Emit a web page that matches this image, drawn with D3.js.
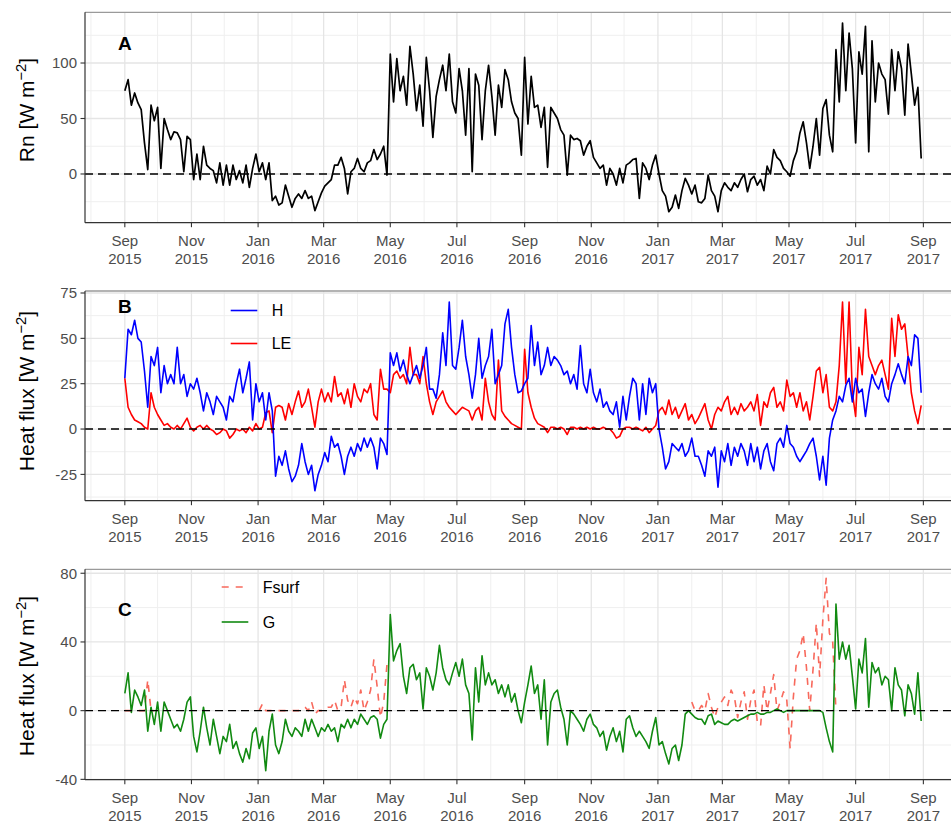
<!DOCTYPE html>
<html>
<head>
<meta charset="utf-8">
<title>Surface energy fluxes 2015-2017</title>
<script src="https://cdn.jsdelivr.net/npm/d3@7/dist/d3.min.js"></script>
<style>
  html, body { margin: 0; padding: 0; background: #fff; }
  svg { display: block; }
  text { font-family: "Liberation Sans", Arial, Helvetica, sans-serif; }
</style>
</head>
<body>
<svg id="chart" width="951" height="823"></svg>
<script>
// ---- data: one value every 3 days starting 1 Sep 2015 (W m-2) ----
const _ = null; // missing value
const startDate = "2015-09-01";
const stepDays = 3;

// Net radiation
const rn = [
  75, 85, 62, 73, 64, 58, 28, 4, 62, 48,              // 2015 Sep
  60, 5, 50, 40, 31, 38, 37, 31, 2, 34, 31,           // Oct
  -5, 18, -5, 25, 8, 5, 3, -8, 10, -10,               // Nov
  8, -10, 8, -5, 3, -8, 8, -12, 5, 18,                // Dec
  2, 10, -5, 10, -24, -20, -28, -26, -10, -20,        // 2016 Jan
  -30, -22, -18, -22, -15, -22, -20, -33, -25, -17,   // Feb
  -11, -8, -5, 8, 8, 15, 5, -18, 2, 5,                // Mar
  14, 5, 2, 10, 12, 22, 13, 18, 25, -1,               // Apr
  108, 65, 104, 75, 88, 62, 115, 90, 57, 80, 43,      // May
  105, 75, 33, 70, 85, 98, 75, 108, 65, 55,           // Jun
  95, 75, 35, 95, 2, 90, 80, 31, 75, 98,              // Jul
  70, 35, 80, 60, 94, 85, 65, 55, 50, 17,             // Aug
  105, 45, 88, 60, 62, 42, 60, 6, 60, 55,             // Sep
  50, 40, 35, -1, 35, 31, 32, 30, 17, 25, 30,         // Oct
  15, 10, 5, 8, -10, 5, 0, -10, 5, -8,                // Nov
  8, 10, 13, 14, -22, 10, 5, -5, 8, 17,               // Dec
  0, -15, -20, -34, -30, -19, -31, -15, -4, -10,      // 2017 Jan
  -18, -10, -25, -26, -22, -1, -15, -20, -34, -15,    // Feb
  -8, -12, -15, -8, -12, -5, 0, -16, -5, -2,          // Mar
  -10, -5, -15, 7, 0, 22, 15, 12, 5, 2,               // Apr
  -2, 12, 20, 37, 47, 28, 5, 25, 50, 17,              // May
  59, 67, 35, 20, 112, 65, 136, 75, 127, 95,          // Jun
  28, 110, 90, 133, 20, 120, 65, 100, 90, 85, 54,     // Jul
  112, 75, 110, 95, 53, 117, 90, 62, 78, 14           // Aug
];

// Sensible heat flux
const sensibleH = [
  28, 55, 52, 60, 50, 48, 32, 12, 40, 35,
  45, 20, 35, 25, 30, 25, 45, 25, 30, 18, 25,
  22, 28, 20, 10, 20, 15, 8, 18, 15, 12,
  5, 18, 15, 25, 33, 20, 28, 37, 5, 25,
  15, 20, 5, 20, 10, -26, -15, -20, -12, -22,
  -29, -26, -20, -8, -18, -25, -20, -34, -25, -20,
  -13, -18, -4, -10, -8, -15, -25, -15, -10, -15,
  -8, -12, -5, -10, -5, -10, -22, -5, -8, -14,
  42, 35, 42, 32, 38, 30, 25, 30, 35, 28, 35,
  45, 22, 22, 17, 30, 53, 35, 70, 35, 33,
  45, 60, 40, 30, 17, 30, 50, 28, 35, 40,
  55, 25, 30, 35, 58, 66, 45, 30, 20, 21,
  25, 28, 57, 35, 48, 30, 35, 45, 35, 40,
  38, 35, 30, 32, 25, 30, 22, 46, 25, 20, 33,
  20, 15, 22, 12, 15, 10, 8, 15, 1, 18,
  5, 18, 28, 25, 5, 25, 8, 28, 20, 25,
  0, -10, -22, -18, -8, -10, -12, -8, -15, -12,
  -5, -15, -15, -20, -26, -12, -15, -10, -32, -12,
  -18, -8, -20, -10, -15, -8, -12, -20, -8, -18,
  -10, -22, -12, -8, -18, -23, -8, -5, -10, 2,
  -8, -10, -15, -18, -15, -12, -8, -5, -15, -28,
  -15, -31, -5, 5, 10, 18, 15, 24, 28, 15,
  28, 20, 22, 7, 20, 30, 25, 22, 28, 18, 15,
  25, 30, 36, 30, 25, 40, 35, 52, 50, 20
];

// Latent heat flux
const latentLE = [
  28, 12, 8, 5, 4, 3, 1, 0, 20, 12,
  8, 5, 2, 3, 1, 0, 2, 0, 3, 6, 1,
  -1, 1, 2, 0, 2, 0, -1, -3, -2, 0,
  -1, -5, -3, 0, -1, 0, -2, 1, -1, 3,
  0, 1, 9, 10, -2, 12, 13, 12, 5, 14,
  8, 15, 21, 12, 15, 22, 12, 1, 15, 22,
  15, 20, 15, 29, 18, 20, 14, 22, 12, 25,
  18, 15, 22, 20, 25, 8, 5, 33, 22, 22,
  20, 30, 32, 28, 30, 25, 45, 30, 30, 25, 40,
  25, 15, 8, 15, 18, 21, 15, 12, 10, 8,
  10, 12, 11, 10, 5, 10, 12, 5, 28, 15,
  8, 5, 38, 10, 7, 5, 3, 2, 1, 0,
  44, 20, 12, 6, 3, 2, 1, -2, 1, 1,
  0, 1, 0, -3, 1, 1, 0, 1, 0, 1, 0,
  1, 0, 0, 1, 0, 0, -2, -5, -4, 0,
  1, 1, 0, 1, 0, -1, 1, -2, 0, 2,
  10, 12, 8, 16, 8, 12, 6, 10, 14, 5,
  8, 3, 6, 10, 14, 5, 0, 8, 12, 10,
  15, 18, 8, 12, 8, 14, 10, 12, 15, 10,
  19, 2, 15, 12, 20, 23, 12, 15, 10, 27,
  18, 20, 12, 20, 10, 15, 5, 18, 32, 34,
  20, 30, 12, 10, 15, 35, 70, 25, 70, 20,
  7, 45, 30, 66, 40, 35, 30, 35, 38, 30, 22,
  61, 40, 63, 55, 58, 40, 20, 10, 3, 13
];

// Surface flux (only where available)
const fsurf = [
  0, 0, 0, 0, 0, 0, 0, 18, 0, 0,
  _, _, _, _, _, _, _, _, _, _, _,
  _, _, _, _, _, _, _, _, _, _,
  _, _, _, _, _, _, _, _, _, _,
  0, 4, 0, 0, 0, 0, 0, 0, 0, 0,
  0, 0, 0, 2, 2, 0, 5, -2, 0, 0,
  0, 2, 2, 6, 0, 2, 18, 6, 2, 8,
  4, 12, 0, 5, 12, 30, 14, -4, 5, 27,
  _, _, _, _, _, _, _, _, _, _, _,
  _, _, _, _, _, _, _, _, _, _,
  _, _, _, _, _, _, _, _, _, _,
  _, _, _, _, _, _, _, _, _, _,
  _, _, _, _, _, _, _, _, _, _,
  _, _, _, _, _, _, _, _, _, _, _,
  _, _, _, _, _, _, _, _, _, _,
  _, _, _, _, _, _, _, _, _, _,
  _, _, _, _, _, _, _, _, _, _,
  5, 0, 0, 3, 0, 10, 2, -4, 2, 5,
  8, 3, 12, 8, -4, 5, 11, -5, 6, 12,
  -7, -9, 15, 0, 10, 21, 0, 5, 11, 6,
  -22, 8, 30, 35, 45, 25, 0, 24, 51, 20,
  53, 77, 45, 40, 0, _, _, _, _, _,
  _, _, _, _, _, _, _, _, _, _, _,
  _, _, _, _, _, _, _, _, _, _
];

// Ground heat flux
const soilG = [
  10, 22, -1, 12, 8, 3, 12, -12, 2, -8,
  5, -12, 5, 0, -5, -10, -8, -12, -5, 5, 8,
  -15, -24, -12, 2, -10, -20, -5, -15, -25, -15,
  -18, -8, -22, -18, -25, -30, -22, -28, -13, -10,
  -22, -15, -35, -12, -2, -20, -25, -18, -5, -12,
  -15, -10, -12, -15, -5, -12, -5, -10, -15, -10,
  -12, -8, -12, -10, -18, -8, -10, -5, -10, -5,
  -8, -2, -5, -8, -4, -3, -5, -16, -8, -5,
  56, 29, 35, 39, 20, 10, 25, 27, 18, 22, 1,
  25, 20, 12, 22, 38, 25, 18, 15, 22, 28,
  20, 30, 15, 10, -17, 25, 5, 32, 15, 22,
  15, 18, 10, 15, 8, 15, 5, 10, 0, -7,
  5, 15, 26, 10, 15, -5, 18, -20, 5, 10,
  12, 2, -5, -20, 0, -2, -5, -8, -12, -5, -2,
  -8, -10, -15, -12, -23, -15, -10, -18, -12, -24,
  -5, -3, -10, -15, -12, -15, -18, -22, -12, -4,
  -20, -18, -25, -31, -22, -20, -29, -20, -2, 0,
  -2, -4, -5, -5, -8, -3, -2, -8, -6, -7,
  -8, -8, -6, -5, -6, -5, -4, -3, -2, -2,
  -1, -2, -2, -1, -1, 0, 1, 0, -1, 0,
  0, 0, 0, 0, 0, 0, 0, 0, 0, 0,
  -1, -10, -18, -24, 62, 30, 40, 30, 38, 20,
  1, 30, 22, 42, 2, 28, 22, 25, 15, 20, 18,
  0, 25, 15, 12, -3, 15, 10, -2, 22, -6
];

const panelLabels = ["A", "B", "C"];
const yTicksA = [0, 50, 100];
const yTicksB = [-25, 0, 25, 50, 75];
const yTicksC = [-40, 0, 40, 80];
const legendNamesB = ["H", "LE"];
const legendNamesC = ["Fsurf", "G"];

// ---- layout ----
const svg = d3.select("#chart");
const defs = svg.append("defs");
const plotLeft = 85, plotRight = 961;
const tickFont = 15, titleFont = 21;
const axisGrey = "#4D4D4D";

const t0 = d3.utcParse("%Y-%m-%d")(startDate);
const dates = rn.map((v, i) => d3.utcDay.offset(t0, i * stepDays));
const [dMin, dMax] = d3.extent(dates);
const pad = (dMax - dMin) * 0.05;
const x = d3.scaleUtc()
  .domain([new Date(+dMin - pad), new Date(+dMax + pad)])
  .range([plotLeft, plotRight]);

const majorMonths = d3.utcMonth.every(2).range(x.domain()[0], x.domain()[1]);
const minorMonths = d3.utcMonth.range(x.domain()[0], x.domain()[1])
  .filter(m => m.getUTCMonth() % 2 === 1);
const fmtMonth = d3.utcFormat("%b"), fmtYear = d3.utcFormat("%Y");

function minorBreaks(ticks, domain) {
  const step = ticks[1] - ticks[0];
  const out = [];
  for (let v = ticks[0] - step / 2; v <= ticks[ticks.length - 1] + step; v += step) {
    if (v > domain[0] && v < domain[1]) out.push(v);
  }
  return out;
}

function drawPanel(cfg) {
  const y = d3.scaleLinear().domain(cfg.yDomain).range([cfg.bottom, cfg.top]);
  const g = svg.append("g");
  const clipId = "clip" + cfg.label;
  defs.append("clipPath").attr("id", clipId)
    .append("rect")
    .attr("x", plotLeft).attr("y", cfg.top)
    .attr("width", plotRight - plotLeft).attr("height", cfg.bottom - cfg.top);
  const body = g.append("g").attr("clip-path", `url(#${clipId})`);

  // grid
  body.selectAll(".hminor").data(minorBreaks(cfg.yTicks, cfg.yDomain)).join("line")
    .attr("x1", plotLeft).attr("x2", plotRight)
    .attr("y1", d => y(d)).attr("y2", d => y(d))
    .attr("stroke", "#EFEFEF").attr("stroke-width", 1);
  body.selectAll(".vminor").data(minorMonths).join("line")
    .attr("x1", d => x(d)).attr("x2", d => x(d))
    .attr("y1", cfg.top).attr("y2", cfg.bottom)
    .attr("stroke", "#EFEFEF").attr("stroke-width", 1);
  body.selectAll(".hmajor").data(cfg.yTicks).join("line")
    .attr("x1", plotLeft).attr("x2", plotRight)
    .attr("y1", d => y(d)).attr("y2", d => y(d))
    .attr("stroke", "#E5E5E5").attr("stroke-width", 1.3);
  body.selectAll(".vmajor").data(majorMonths).join("line")
    .attr("x1", d => x(d)).attr("x2", d => x(d))
    .attr("y1", cfg.top).attr("y2", cfg.bottom)
    .attr("stroke", "#E5E5E5").attr("stroke-width", 1.3);

  // series
  cfg.series.forEach(s => {
    const pts = s.values.map((v, i) => ({ date: dates[i], v }));
    const line = d3.line()
      .defined(d => d.v !== null && d.v !== undefined)
      .x(d => x(d.date)).y(d => y(d.v));
    body.append("path")
      .attr("d", line(pts))
      .attr("fill", "none")
      .attr("stroke", s.color)
      .attr("stroke-width", s.width)
      .attr("stroke-linejoin", "round")
      .attr("stroke-dasharray", s.dash || null);
  });

  // zero reference line
  body.append("line")
    .attr("x1", plotLeft).attr("x2", plotRight)
    .attr("y1", y(0)).attr("y2", y(0))
    .attr("stroke", "#000").attr("stroke-width", 1.4)
    .attr("stroke-dasharray", "8,5");

  // frame: light top border, dark axis lines
  g.append("line").attr("x1", plotLeft).attr("x2", plotRight)
    .attr("y1", cfg.top).attr("y2", cfg.top)
    .attr("stroke", "#9A9A9A").attr("stroke-width", 1.3);
  g.append("line").attr("x1", plotLeft).attr("x2", plotLeft)
    .attr("y1", cfg.top).attr("y2", cfg.bottom)
    .attr("stroke", "#333").attr("stroke-width", 1.2);
  g.append("line").attr("x1", plotLeft).attr("x2", plotRight)
    .attr("y1", cfg.bottom).attr("y2", cfg.bottom)
    .attr("stroke", "#333").attr("stroke-width", 1.2);

  // y axis
  const yAxis = g.append("g");
  yAxis.selectAll("line").data(cfg.yTicks).join("line")
    .attr("x1", plotLeft - 4.5).attr("x2", plotLeft)
    .attr("y1", d => y(d)).attr("y2", d => y(d))
    .attr("stroke", "#333").attr("stroke-width", 1.1);
  yAxis.selectAll("text").data(cfg.yTicks).join("text")
    .attr("x", plotLeft - 8).attr("y", d => y(d) + 5.4)
    .attr("text-anchor", "end")
    .attr("font-size", tickFont).attr("fill", axisGrey)
    .text(d => d);

  // x axis
  const xAxis = g.append("g");
  xAxis.selectAll("line").data(majorMonths).join("line")
    .attr("x1", d => x(d)).attr("x2", d => x(d))
    .attr("y1", cfg.bottom).attr("y2", cfg.bottom + 4.5)
    .attr("stroke", "#333").attr("stroke-width", 1.1);
  const lab = xAxis.selectAll("text").data(majorMonths).join("text")
    .attr("text-anchor", "middle")
    .attr("font-size", tickFont).attr("fill", axisGrey);
  lab.append("tspan").attr("x", d => x(d)).attr("y", cfg.bottom + 23).text(d => fmtMonth(d));
  lab.append("tspan").attr("x", d => x(d)).attr("y", cfg.bottom + 41.5).text(d => fmtYear(d));

  // y title with superscript
  const yt = g.append("text")
    .attr("transform", `translate(34,${cfg.titleY}) rotate(-90)`)
    .attr("text-anchor", "middle")
    .attr("font-size", titleFont).attr("fill", "#000");
  yt.append("tspan").text(cfg.title + " [W m");
  yt.append("tspan").attr("dy", -8).attr("font-size", titleFont * 0.7).text("\u22122");
  yt.append("tspan").attr("dy", 8).text("]");

  // panel letter
  g.append("text")
    .attr("x", x(t0)).attr("y", y(cfg.labelValue))
    .attr("dy", "0.36em")
    .attr("text-anchor", "middle")
    .attr("font-size", 19).attr("font-weight", "bold")
    .text(cfg.label);

  // legend
  if (cfg.legend) {
    cfg.legend.forEach((item, i) => {
      const ly = cfg.legendY[i];
      g.append("line")
        .attr("x1", cfg.legendX).attr("x2", cfg.legendX + 26.6)
        .attr("y1", ly).attr("y2", ly)
        .attr("stroke", item.color).attr("stroke-width", item.width)
        .attr("stroke-dasharray", item.dash || null);
      g.append("text")
        .attr("x", cfg.legendX + 41).attr("y", ly + 5.7)
        .attr("font-size", 16).attr("fill", "#000")
        .text(item.name);
    });
  }
}

const colH = "#0000FF", colLE = "#FF0000", colF = "#F8695C", colG = "#118A11";

drawPanel({
  label: panelLabels[0], top: 12.3, bottom: 222.7, yDomain: [-43.9, 145.7],
  yTicks: yTicksA, title: "Rn", titleY: 110, labelValue: 118,
  series: [{ values: rn, color: "#000", width: 1.7 }]
});

const seriesB = [
  { name: legendNamesB[0], values: sensibleH, color: colH, width: 1.6 },
  { name: legendNamesB[1], values: latentLE, color: colLE, width: 1.6 }
];
drawPanel({
  label: panelLabels[1], top: 291, bottom: 500.7, yDomain: [-39.5, 76.1],
  yTicks: yTicksB, title: "Heat flux", titleY: 391, labelValue: 68,
  series: [seriesB[1], seriesB[0]],
  legend: seriesB, legendX: 230.7, legendY: [310.5, 343.5]
});

const seriesC = [
  { name: legendNamesC[0], values: fsurf, color: colF, width: 1.6, dash: "7,7" },
  { name: legendNamesC[1], values: soilG, color: colG, width: 1.6 }
];
drawPanel({
  label: panelLabels[2], top: 569.3, bottom: 779.7, yDomain: [-40.2, 82.3],
  yTicks: yTicksC, title: "Heat flux", titleY: 676, labelValue: 59,
  series: seriesC,
  legend: seriesC, legendX: 221.7, legendY: [587, 622]
});
</script>
</body>
</html>
